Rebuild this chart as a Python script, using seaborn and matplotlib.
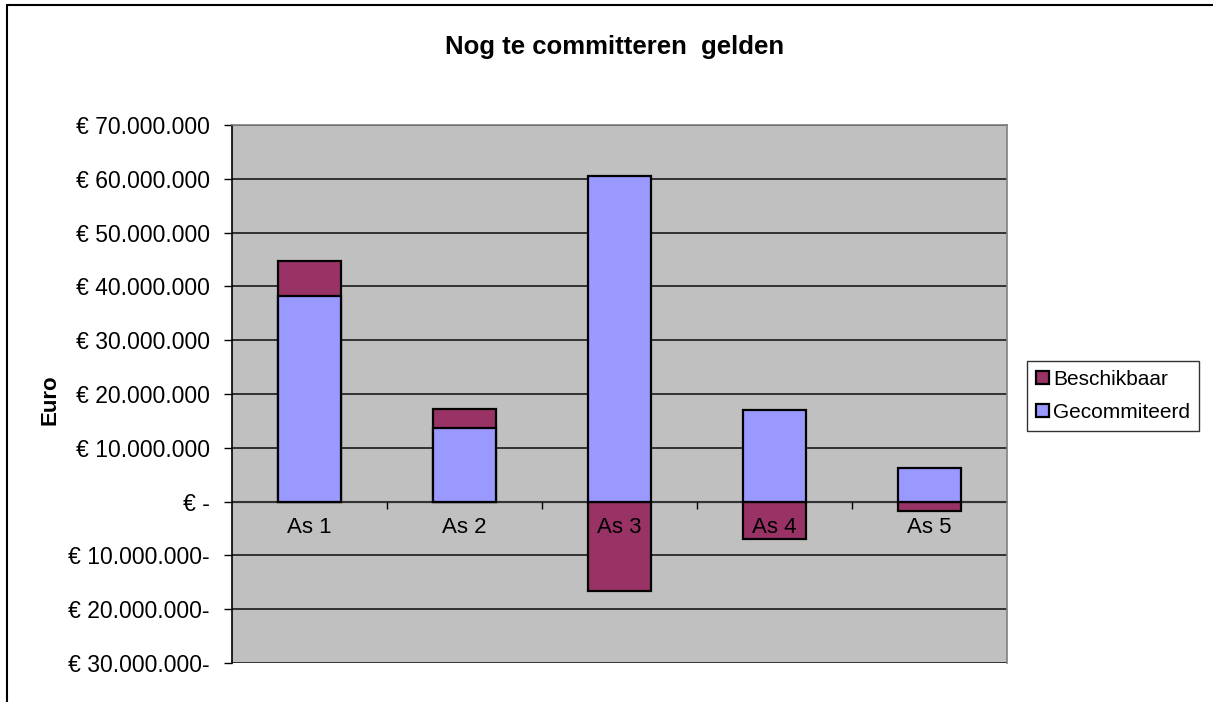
import numpy as np
import pandas as pd
import matplotlib
matplotlib.use('Agg')
import matplotlib.pyplot as plt
from matplotlib.lines import Line2D
from matplotlib.ticker import FuncFormatter, MultipleLocator, FixedLocator
import seaborn as sns

# --- data (euro) ---
assen = ['As 1', 'As 2', 'As 3', 'As 4', 'As 5']
gecommiteerd = [38_200_000, 13_700_000, 60_500_000, 17_100_000, 6_300_000]
beschikbaar = [6_500_000, 3_600_000, -16_700_000, -7_000_000, -1_700_000]

df = pd.DataFrame({'as': assen, 'gecom': gecommiteerd, 'besch': beschikbaar})
# stacked: positive remainder stacks on top, negative goes below zero
df['besch_top'] = np.where(df['besch'] > 0, df['gecom'] + df['besch'], df['besch'])

sns.set_style('white')
plt.rcParams['font.family'] = ['Liberation Sans', 'DejaVu Sans']
plt.rcParams['text.color'] = 'black'
plt.rcParams['xtick.color'] = 'black'
plt.rcParams['ytick.color'] = 'black'

fig = plt.figure(figsize=(12.13, 7.02), dpi=100)
ax = fig.add_axes([232 / 1213, 1 - 663 / 702, 775 / 1213, 538 / 702])
ax.set_facecolor('#C0C0C0')

sns.barplot(data=df, x='as', y='besch_top', color='#993366', width=0.41,
            edgecolor='black', linewidth=1.6, saturation=1,
            label='Beschikbaar', ax=ax, zorder=3)
sns.barplot(data=df, x='as', y='gecom', color='#9999FF', width=0.41,
            edgecolor='black', linewidth=1.6, saturation=1,
            label='Gecommiteerd', ax=ax, zorder=3)

ax.set_ylim(-30_000_000, 70_000_000)
ax.set_xlim(-0.5, 4.5)
ax.yaxis.set_major_locator(MultipleLocator(10_000_000))


def euro(v, pos):
    if abs(v) < 1:
        return '€ -'
    s = f'{abs(v):,.0f}'.replace(',', '.')
    return f'€ {s}-' if v < 0 else f'€ {s}'


ax.yaxis.set_major_formatter(FuncFormatter(euro))
ax.grid(axis='y', color='#1a1a1a', linewidth=1.2)
ax.set_axisbelow(True)
# category labels must sit on top of the bars
ax.xaxis.set_zorder(5)
ax.axhline(0, color='#333333', linewidth=1.5, zorder=2)

ax.tick_params(axis='y', direction='out', length=6, width=1,
               labelsize=16.5, pad=10, left=True)

# category labels just under the zero line, boundary ticks
ax.spines['bottom'].set_position(('data', 0))
ax.spines['bottom'].set_color('#333333')
ax.spines['bottom'].set_zorder(2)
ax.xaxis.set_minor_locator(FixedLocator([0.5, 1.5, 2.5, 3.5]))
ax.tick_params(axis='x', which='major', length=0, labelsize=16, pad=11)
ax.tick_params(axis='x', which='minor', direction='out', length=5, width=1,
               bottom=True)
ax.set_xlabel('')

for side in ['top', 'right']:
    ax.spines[side].set_color('#808080')
    ax.spines[side].set_linewidth(1.2)
ax.spines['left'].set_color('black')
ax.spines['left'].set_linewidth(1.2)

ax.set_ylabel('')
fig.text(50 / 1213, 1 - 400 / 702, 'Euro', rotation=90, fontsize=16,
         fontweight='bold', ha='center', va='center')

fig.text(615 / 1213, 1 - 47 / 702, 'Nog te committeren  gelden', fontsize=18.5,
         fontweight='bold', ha='center', va='center')

leg = ax.legend(loc='center left', bbox_to_anchor=(1027 / 1213, 1 - 396 / 702),
                bbox_transform=fig.transFigure, fontsize=15, frameon=True,
                fancybox=False, edgecolor='black', handlelength=0.6,
                handleheight=0.6, handletextpad=0.2, labelspacing=0.65,
                borderpad=0.45, borderaxespad=0)
leg.get_frame().set_linewidth(1)

# outer chart border (left and top)
fig.add_artist(Line2D([7 / 1213, 7 / 1213], [0, 1 - 5 / 702],
                      transform=fig.transFigure, color='black', linewidth=1.5))
fig.add_artist(Line2D([7 / 1213, 1], [1 - 5 / 702, 1 - 5 / 702],
                      transform=fig.transFigure, color='black', linewidth=1.5))

fig.savefig('out.png', dpi=100)
